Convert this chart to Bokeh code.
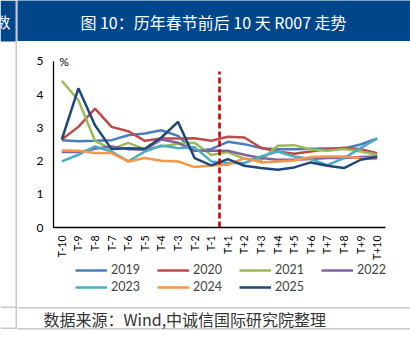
from math import pi
from bokeh.plotting import figure
from bokeh.layouts import row, column
from bokeh.models import FixedTicker, Label, Legend, LegendItem, Range1d
from bokeh.core.properties import value
from bokeh.embed import file_html
from bokeh.resources import INLINE

days = ["T-10", "T-9", "T-8", "T-7", "T-6", "T-5", "T-4", "T-3", "T-2", "T-1",
        "T+1", "T+2", "T+3", "T+4", "T+5", "T+6", "T+7", "T+8", "T+9", "T+10"]

r2019 = [2.63, 2.60, 2.61, 2.63, 2.78, 2.83, 2.93, 2.76, 2.30, 2.36,
         2.58, 2.51, 2.39, 2.36, 2.36, 2.37, 2.38, 2.38, 2.50, 2.68]
r2020 = [2.65, 3.03, 3.58, 3.03, 2.90, 2.61, 2.68, 2.68, 2.69, 2.61,
         2.73, 2.71, 2.40, 2.29, 2.22, 2.29, 2.36, 2.40, 2.36, 2.24]
r2021 = [4.42, 3.83, 2.61, 2.36, 2.55, 2.36, 2.44, 2.52, 2.55, 2.18,
         2.27, 2.07, 2.02, 2.46, 2.48, 2.35, 2.31, 2.36, 2.29, 2.19]
r2022 = [2.27, 2.27, 2.37, 2.44, 2.36, 2.34, 2.65, 2.55, 2.31, 2.31,
         2.31, 2.19, 2.09, 2.04, 2.04, 2.06, 2.09, 2.09, 2.12, 2.14]
r2023 = [1.99, 2.19, 2.44, 2.29, 1.99, 2.29, 2.47, 2.39, 2.42, 1.99,
         1.94, 1.94, 2.14, 2.29, 2.14, 2.06, 1.88, 2.09, 2.39, 2.68]
r2024 = [2.32, 2.31, 2.24, 2.24, 1.99, 2.09, 2.01, 1.99, 1.82, 1.87,
         1.89, 2.09, 1.96, 1.99, 2.02, 2.12, 2.14, 2.14, 2.09, 2.06]
r2025 = [2.65, 4.19, 3.08, 2.36, 2.39, 2.37, 2.71, 3.18, 2.09, 1.87,
         2.06, 1.86, 1.79, 1.74, 1.81, 1.96, 1.86, 1.79, 2.04, 2.12]

years = ["2019", "2020", "2021", "2022", "2023", "2024", "2025"]
series = [r2019, r2020, r2021, r2022, r2023, r2024, r2025]
colors = ["#4A7EBB", "#BE4B48", "#9BBB59", "#8064A2", "#4BACC6", "#F79646", "#1F497D"]

y_ticks = [0, 1, 2, 3, 4, 5]
y_min, y_max = 0, 5
festival_after = "T+1"
festival_line_top = 4.7

title_text = "图 10：历年春节前后 10 天 R007 走势"
source_text = "数据来源：Wind,中诚信国际研究院整理"
cut_char = "数"

BLUE = "#00468B"
RULE = "#C8C8C8"
CJK = "Noto Sans CJK SC"
LAT = "Lato"

W, H = 410, 354
STRIP = 17
CW = W - STRIP
LEG_IND = 58
HEADROOM_PX = 8
PX_PER_UNIT = 167 / (y_max - y_min)


def blank(w, h, bg="white"):
    f = figure(width=w, height=h, output_backend="svg", toolbar_location=None,
               x_range=Range1d(0, w), y_range=Range1d(h, 0),
               x_axis_type=None, y_axis_type=None, min_border=0,
               min_border_left=0, min_border_right=0, min_border_top=0,
               min_border_bottom=0)
    f.outline_line_color = None
    f.xgrid.visible = False
    f.ygrid.visible = False
    f.background_fill_color = bg
    f.border_fill_color = bg
    return f


# ---- left strip (table border column) ----
left = blank(STRIP, H)
left.quad(left=[0], right=[STRIP], top=[0], bottom=[41], fill_color=BLUE, line_color=None)
left.text(x=[-5], y=[21], text=[cut_char], text_color="white", text_font=value(CJK),
          text_font_size="15px", text_baseline="middle", text_align="left")
left.quad(left=[15], right=[16.5], top=[0], bottom=[328.5], fill_color=RULE, line_color=None)
left.quad(left=[0, 0], right=[STRIP, STRIP], top=[306, 327], bottom=[307.5, 328.5],
          fill_color=RULE, line_color=None)

# ---- title bar ----
head = blank(CW, 41, bg=BLUE)
head.text(x=[196], y=[21], text=[title_text], text_color="white", text_font=value(CJK),
          text_font_size="16px", text_baseline="middle", text_align="center")

# ---- main chart ----
p = figure(width=CW, height=221, output_backend="svg", toolbar_location=None,
           x_range=Range1d(-0.5, len(days) - 0.5),
           y_range=Range1d(y_min, y_max + HEADROOM_PX / PX_PER_UNIT),
           min_border_left=36, min_border_right=25, min_border_top=20 - HEADROOM_PX,
           min_border_bottom=34)
p.outline_line_color = None
p.xgrid.visible = False
p.ygrid.visible = False

xs = list(range(len(days)))
for yr, vals, c in zip(years, series, colors):
    p.line(xs, vals, line_color=c, line_width=2.5)

xb = days.index(festival_after) - 0.5
p.segment(x0=[xb], y0=[0], x1=[xb], y1=[festival_line_top],
          line_color="#C00000", line_width=2.5, line_dash="6 3")

for ax in (p.xaxis[0], p.yaxis[0]):
    ax.major_tick_line_color = None
    ax.minor_tick_line_color = None
    ax.major_tick_out = 0
    ax.major_tick_in = 0
    ax.minor_tick_out = 0
    ax.minor_tick_in = 0
    ax.axis_line_color = "black"
    ax.axis_line_width = 1.3
    ax.major_label_text_font = LAT
    ax.major_label_text_color = "black"

xa = p.xaxis[0]
xa.ticker = FixedTicker(ticks=xs)
xa.major_label_overrides = {i: d for i, d in enumerate(days)}
xa.major_label_orientation = pi / 2
xa.major_label_text_font_size = "10.5px"
xa.major_label_standoff = 8

ya = p.yaxis[0]
ya.ticker = FixedTicker(ticks=y_ticks)
ya.bounds = (y_min, y_max)
ya.major_label_text_font_size = "12px"
ya.major_label_standoff = 10

p.add_layout(Label(x=-0.15, y=y_max, text="%", text_font=LAT, text_font_size="12px",
                   text_baseline="middle", text_color="black"))

# ---- legend ----
lg_pad = blank(LEG_IND, 44)
lg = blank(CW - LEG_IND, 44)
items = []
for yr, c in zip(years, colors):
    r = lg.line([float("nan")], [float("nan")], line_color=c, line_width=2.5)
    items.append(LegendItem(label=yr, renderers=[r]))
legend = Legend(items=items, location="top_left", orientation="horizontal", ncols=4,
                glyph_width=32, glyph_height=12, label_height=12, label_width=44,
                label_standoff=4, spacing=2, padding=0, margin=0,
                border_line_color=None, background_fill_alpha=0,
                label_text_font=LAT, label_text_font_size="12.5px")
lg.add_layout(legend)

# ---- source footer ----
foot = blank(CW, 48)
foot.quad(left=[0, 0], right=[CW, CW], top=[0.5, 21.5], bottom=[2, 23],
          fill_color=RULE, line_color=None)
foot.text(x=[26], y=[12.5], text=[source_text], text_color="#333333", text_font=value(CJK),
          text_font_size="16px", text_baseline="middle", text_align="left")

right = column(row(head), row(p), row(lg_pad, lg), row(foot), spacing=0)
layout = row(left, right, spacing=0)
open("out.html", "w").write(file_html(layout, INLINE))
